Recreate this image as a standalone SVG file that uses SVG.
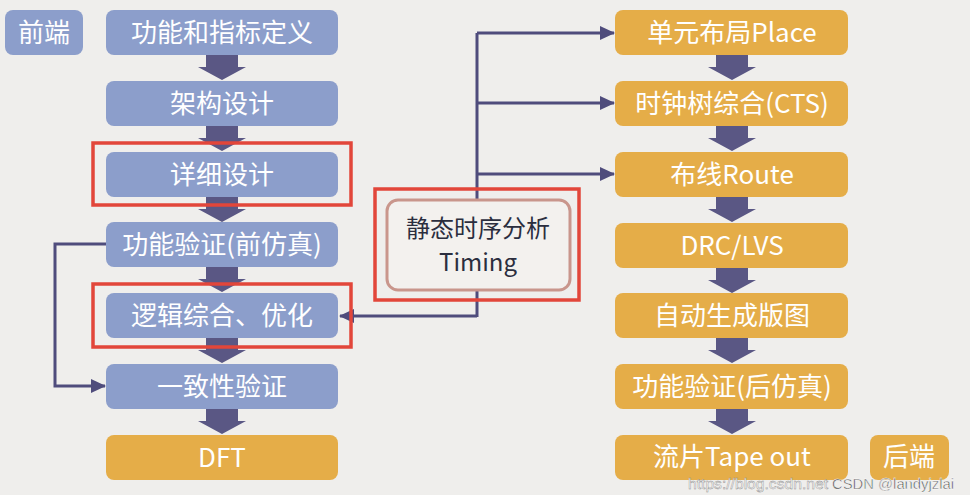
<svg xmlns="http://www.w3.org/2000/svg" width="970" height="495" viewBox="0 0 970 495">
<style>
.bg{fill:#efeeec}
.fe{fill:#8c9ecb}
.be{fill:#e5ad48}
.lbl{font-family:"Noto Sans CJK SC","Noto Sans",sans-serif;font-size:26px;fill:#ffffff;text-anchor:middle}
.dk{font-family:"Noto Sans CJK SC","Noto Sans",sans-serif;font-size:24px;fill:#2b2e3e;text-anchor:middle}
.blk{fill:#5a5784}
.red{fill:none;stroke:#e2463a;stroke-width:3.5}
.con{fill:none;stroke:#4f4c7c;stroke-width:3}
.wm{font-family:"Liberation Sans",Arial,sans-serif;font-size:15px}
</style>
<defs>
<marker id="ah" markerUnits="userSpaceOnUse" markerWidth="16" markerHeight="16" viewBox="0 0 16 16" refX="14" refY="8" orient="auto">
<path d="M0,1 L15,8 L0,15 Z" fill="#4f4c7c"/>
</marker>
<path id="dn" d="M-16,0 L16,0 L16,12 L24,12 L0,25 L-24,12 L-16,12 Z"/>
</defs>
<rect class="bg" x="0" y="0" width="970" height="495"/>

<g id="block-arrows" class="blk">
<use href="#dn" x="222" y="55"/>
<use href="#dn" x="222" y="126"/>
<use href="#dn" x="222" y="197"/>
<use href="#dn" x="222" y="267"/>
<use href="#dn" x="222" y="338"/>
<use href="#dn" x="222" y="409"/>
<use href="#dn" x="732" y="55"/>
<use href="#dn" x="732" y="126"/>
<use href="#dn" x="732" y="197"/>
<use href="#dn" x="732" y="268"/>
<use href="#dn" x="732" y="338"/>
<use href="#dn" x="732" y="409"/>
</g>

<g id="connectors">
<path class="con" d="M477,317 L477,33"/>
<path class="con" d="M477,33 L614,33" marker-end="url(#ah)"/>
<path class="con" d="M477,103 L614,103" marker-end="url(#ah)"/>
<path class="con" d="M477,174 L614,174" marker-end="url(#ah)"/>
<path class="con" d="M477,316 L340,316" marker-end="url(#ah)"/>
<path class="con" d="M106,244 L55,244 L55,386 L105,386" marker-end="url(#ah)"/>
</g>

<g id="frontend-label"><rect class="fe" x="5" y="10" width="78" height="45" rx="8"/><text class="lbl" x="44" y="42">前端</text></g>
<g id="n1"><rect class="fe" x="106" y="10" width="232" height="45" rx="8"/><text class="lbl" x="222" y="42">功能和指标定义</text></g>
<g id="n2"><rect class="fe" x="106" y="81" width="232" height="45" rx="8"/><text class="lbl" x="222" y="113">架构设计</text></g>
<g id="n3"><rect class="fe" x="106" y="152" width="232" height="45" rx="8"/><text class="lbl" x="222" y="184">详细设计</text></g>
<g id="n4"><rect class="fe" x="106" y="222" width="232" height="45" rx="8"/><text class="lbl" x="222" y="254">功能验证(前仿真)</text></g>
<g id="n5"><rect class="fe" x="106" y="293" width="232" height="45" rx="8"/><text class="lbl" x="222" y="325">逻辑综合、优化</text></g>
<g id="n6"><rect class="fe" x="106" y="364" width="232" height="45" rx="8"/><text class="lbl" x="222" y="396">一致性验证</text></g>
<g id="n7"><rect class="be" x="106" y="435" width="232" height="45" rx="8"/><text class="lbl" x="222" y="467">DFT</text></g>

<g id="r1"><rect class="be" x="615" y="10" width="233" height="45" rx="8"/><text class="lbl" x="732" y="42">单元布局Place</text></g>
<g id="r2"><rect class="be" x="615" y="81" width="233" height="45" rx="8"/><text class="lbl" x="732" y="113">时钟树综合(CTS)</text></g>
<g id="r3"><rect class="be" x="615" y="152" width="233" height="45" rx="8"/><text class="lbl" x="732" y="184">布线Route</text></g>
<g id="r4"><rect class="be" x="615" y="223" width="233" height="45" rx="8"/><text class="lbl" x="732" y="255">DRC/LVS</text></g>
<g id="r5"><rect class="be" x="615" y="293" width="233" height="45" rx="8"/><text class="lbl" x="732" y="325">自动生成版图</text></g>
<g id="r6"><rect class="be" x="615" y="364" width="233" height="45" rx="8"/><text class="lbl" x="732" y="396">功能验证(后仿真)</text></g>
<g id="r7"><rect class="be" x="615" y="435" width="233" height="45" rx="8"/><text class="lbl" x="732" y="466">流片Tape out</text></g>
<g id="backend-label"><rect class="be" x="870" y="435" width="79" height="45" rx="8"/><text class="lbl" x="909" y="466">后端</text></g>

<g id="timing">
<rect x="387" y="200" width="183" height="90" rx="11" fill="#f3f1ee" stroke="#c9968c" stroke-width="3"/>
<text class="dk" x="478" y="237">静态时序分析</text>
<text class="dk" x="478" y="271">Timing</text>
</g>

<g id="highlights">
<rect class="red" x="93" y="143" width="258" height="62"/>
<rect class="red" x="93" y="284" width="258" height="63"/>
<rect class="red" x="375" y="189" width="204" height="111"/>
</g>

<g id="watermark">
<text class="wm" x="688" y="489" textLength="140" lengthAdjust="spacingAndGlyphs" fill="#ffffff" fill-opacity="0.85" stroke="#8a8a8a" stroke-width="0.4">https://blog.csdn.net</text>
<text class="wm" x="832" y="489" textLength="122" lengthAdjust="spacingAndGlyphs" fill="#3a3a3a" stroke="#ffffff" stroke-width="0.5">CSDN @landyjzlai</text>
</g>
</svg>
